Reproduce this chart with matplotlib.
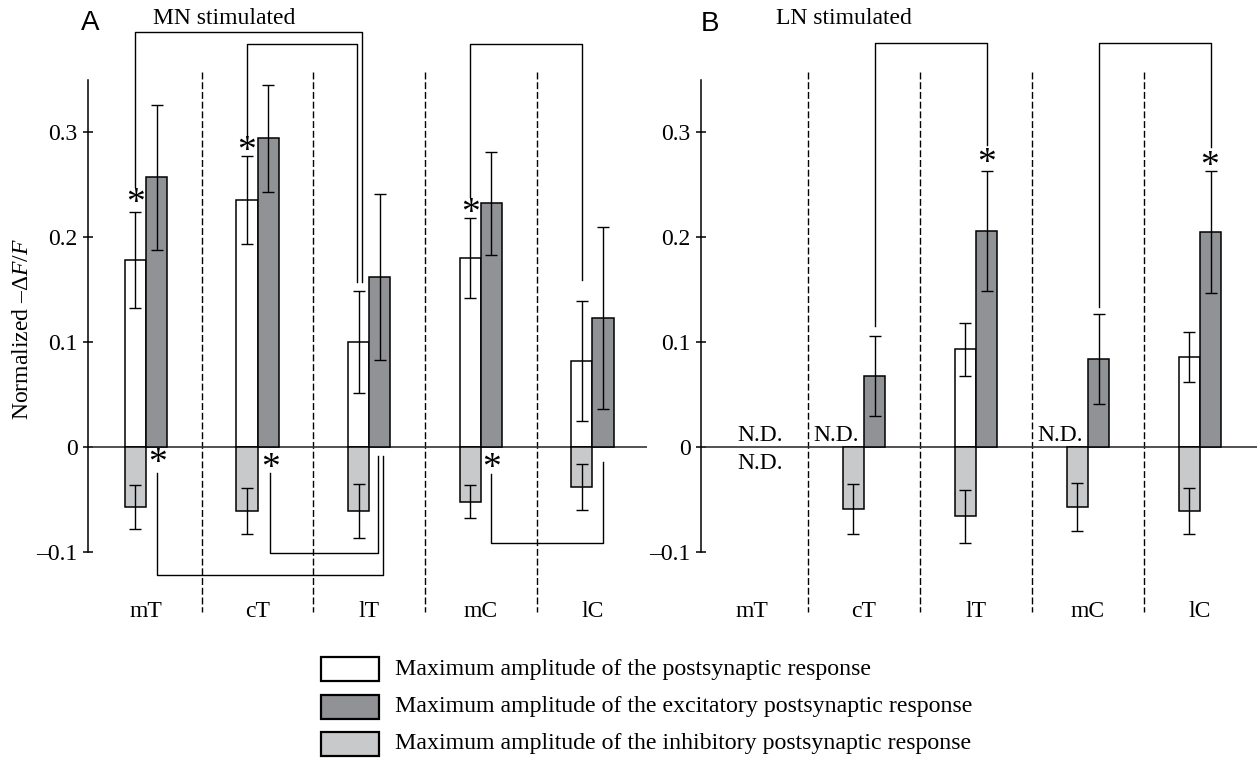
import numpy as np
import matplotlib
matplotlib.use("Agg")
import matplotlib.pyplot as plt
from matplotlib.patches import Rectangle

plt.rcParams['font.family'] = ['Liberation Serif', 'DejaVu Serif']
plt.rcParams['mathtext.fontset'] = 'custom'
plt.rcParams['mathtext.rm'] = 'Liberation Serif'
plt.rcParams['mathtext.it'] = 'Liberation Serif:italic'

cats = ['mT', 'cT', 'lT', 'mC', 'lC']

# panel A, MN stimulated
a_post = [0.178, 0.235, 0.100, 0.180, 0.082]
a_post_err = [0.046, 0.042, 0.049, 0.038, 0.057]
a_exc = [0.257, 0.294, 0.162, 0.232, 0.123]
a_exc_err = [0.069, 0.051, 0.079, 0.049, 0.087]
a_inh = [-0.057, -0.061, -0.061, -0.052, -0.038]
a_inh_err = [0.021, 0.022, 0.026, 0.016, 0.022]

# panel B, LN stimulated (nan = N.D.)
b_post = [np.nan, np.nan, 0.093, np.nan, 0.086]
b_post_err = [0, 0, 0.025, 0, 0.024]
b_exc = [np.nan, 0.068, 0.206, 0.084, 0.205]
b_exc_err = [0, 0.038, 0.057, 0.043, 0.058]
b_inh = [np.nan, -0.059, -0.066, -0.057, -0.061]
b_inh_err = [0, 0.024, 0.025, 0.023, 0.022]

# significance brackets: x_left, x_right, y_span, y_left_end, y_right_end
a_brackets = [(-0.095, 1.935, 0.395, 0.248, 0.157),
              (0.905, 1.89, 0.384, 0.297, 0.157),
              (2.905, 3.905, 0.384, 0.238, 0.159),
              (0.095, 2.12, -0.122, -0.025, -0.0086),
              (1.11, 2.075, -0.101, -0.025, -0.0086),
              (3.095, 4.10, -0.0914, -0.026, -0.0143)]
a_stars = [(-0.095, 0.238), (0.905, 0.288), (2.905, 0.229),
           (0.10, -0.0095), (1.12, -0.014), (3.10, -0.014)]
b_brackets = [(1.095, 2.095, 0.385, 0.115, 0.288),
              (3.095, 4.095, 0.385, 0.133, 0.286)]
b_stars = [(2.095, 0.276), (4.085, 0.273)]
b_nd = [(0.07, 0.006), (0.07, -0.0212), (0.75, 0.006), (2.75, 0.006)]

legend_labels = ['Maximum amplitude of the postsynaptic response',
                 'Maximum amplitude of the excitatory postsynaptic response',
                 'Maximum amplitude of the inhibitory postsynaptic response']

c_post, c_exc, c_inh = 'white', '#919296', '#c8c9cb'
W = 0.19
FS = 17
STAR_FS = 27

W_PX, H_PX = 1257, 763
fig = plt.figure(figsize=(W_PX / 100, H_PX / 100), dpi=100)

# vertical mapping: zero at 447 px, 0.1 per 105 px; axes span 0..640 px
y_top = 447 / 1050
y_bot = (447 - 640) / 1050
ax_b = (H_PX - 640) / H_PX
ax_h = 640 / H_PX

axA = fig.add_axes([88 / W_PX, ax_b, (647 - 88) / W_PX, ax_h])
axB = fig.add_axes([701 / W_PX, ax_b, (1257 - 701) / W_PX, ax_h])


def draw_panel(ax, post, post_err, exc, exc_err, inh, inh_err, xlim):
    x = np.arange(len(cats))
    post = np.array(post); exc = np.array(exc); inh = np.array(inh)
    for vals, errs, off, col in [(post, post_err, -W / 2, c_post),
                                 (inh, inh_err, -W / 2, c_inh),
                                 (exc, exc_err, W / 2, c_exc)]:
        m = ~np.isnan(vals)
        ax.bar(x[m] + off, vals[m], W, color=col, edgecolor='black', linewidth=1.1, zorder=3)
        ax.errorbar(x[m] + off, vals[m], yerr=np.array(errs)[m], fmt='none',
                    ecolor='black', elinewidth=1.0, capsize=4, capthick=1.0, zorder=4)
    ax.axhline(0, color='#333333', lw=1.2, zorder=2)
    for s in x[:-1] + 0.5:
        ax.plot([s, s], [0.357, -0.157], color='black', lw=1.0,
                linestyle=(0, (5, 2)), zorder=1)
    for i, c in enumerate(cats):
        ax.text(i, -0.162, c, ha='center', va='baseline', fontsize=FS)
    ax.set_xlim(*xlim)
    ax.set_ylim(y_bot, y_top)
    for side in ['top', 'right', 'bottom']:
        ax.spines[side].set_visible(False)
    ax.spines['left'].set_bounds(-0.1, 0.35)
    ax.spines['left'].set_linewidth(1.1)
    ax.set_xticks([])
    ax.set_yticks([-0.1, 0, 0.1, 0.2, 0.3])
    ax.set_yticklabels(['\u20130.1', '0', '0.1', '0.2', '0.3'], fontsize=FS)
    ax.tick_params(axis='y', direction='inout', length=7, width=1.1, pad=4)
    ax.patch.set_visible(False)


def draw_brackets(ax, brackets, stars):
    for xl, xr, ys, yl, yr in brackets:
        ax.plot([xl, xl, xr, xr], [yl, ys, ys, yr], color='black', lw=1.0,
                clip_on=False, zorder=5)
    for sx, sy in stars:
        ax.annotate('*', (sx, sy), xytext=(0, -0.43 * STAR_FS), textcoords='offset points',
                    ha='center', va='baseline', fontsize=STAR_FS)


draw_panel(axA, a_post, a_post_err, a_exc, a_exc_err, a_inh, a_inh_err, (-0.52, 4.49))
draw_panel(axB, b_post, b_post_err, b_exc, b_exc_err, b_inh, b_inh_err, (-0.455, 4.51))
draw_brackets(axA, a_brackets, a_stars)
draw_brackets(axB, b_brackets, b_stars)
for nx, ny in b_nd:
    axB.text(nx, ny, 'N.D.', ha='center', va='baseline', fontsize=FS)

# titles
fig.text(90 / W_PX, 1 - 23 / H_PX, 'A', ha='center', va='center', fontsize=20,
         family='Liberation Sans')
fig.text(710 / W_PX, 1 - 24 / H_PX, 'B', ha='center', va='center', fontsize=20,
         family='Liberation Sans')
fig.text(153 / W_PX, 1 - 24 / H_PX, 'MN stimulated', ha='left', va='baseline', fontsize=FS)
fig.text(776 / W_PX, 1 - 24 / H_PX, 'LN stimulated', ha='left', va='baseline', fontsize=FS)
fig.text(23 / W_PX, 1 - 329 / H_PX, 'Normalized \u2013\u0394$F$/$F$', rotation=90,
         ha='center', va='center', fontsize=FS)

# legend
for k, (lab, col) in enumerate(zip(legend_labels, [c_post, c_exc, c_inh])):
    yc = 669 + 37.5 * k
    fig.patches.append(Rectangle((321 / W_PX, 1 - (yc + 12) / H_PX), 58 / W_PX, 24 / H_PX,
                                 transform=fig.transFigure, facecolor=col,
                                 edgecolor='black', linewidth=1.6))
    fig.text(395 / W_PX, 1 - yc / H_PX, lab, ha='left', va='center', fontsize=FS + 0.2)

fig.savefig('out.png', dpi=100)
